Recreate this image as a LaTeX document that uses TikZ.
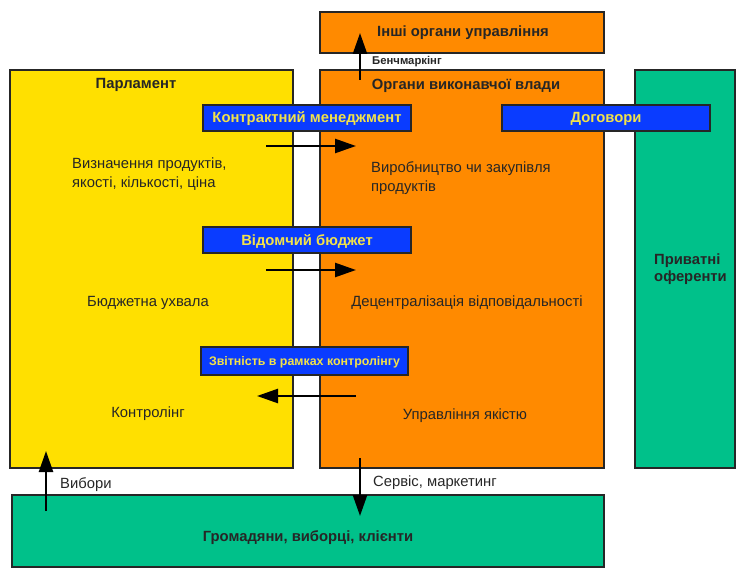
\documentclass[tikz,border=0pt]{standalone}
\usepackage{fontspec}
\setmainfont{Liberation Sans}
\usetikzlibrary{arrows.meta}
\definecolor{yel}{HTML}{FFE000}
\definecolor{org}{HTML}{FF8A00}
\definecolor{grn}{HTML}{00C18A}
\definecolor{blu}{HTML}{0A3CFF}
\definecolor{btxt}{HTML}{F2E24A}
\begin{document}
\begin{tikzpicture}[x=1pt,y=-1pt,
  box/.style={draw=black!85,line width=1.3pt,inner sep=0pt},
  lab/.style={draw=black!85,line width=1.3pt,fill=blu},
  ltx/.style={text=btxt,font=\bfseries\fontsize{14.8}{17}\selectfont,inner sep=0pt},
  txt/.style={font=\fontsize{14.8}{19}\selectfont,inner sep=0pt,text=black!85},
  btx/.style={font=\bfseries\fontsize{14.8}{17}\selectfont,inner sep=0pt,text=black!85},
  arr/.style={line width=2.5pt,-{Triangle[length=21pt,width=14pt]}}]
\useasboundingbox (0,0) rectangle (738,569);
% boxes
\filldraw[box,fill=yel] (10,70) rectangle (293,468);
\filldraw[box,fill=org] (320,70) rectangle (604,468);
\filldraw[box,fill=org] (320,12) rectangle (604,53);
\filldraw[box,fill=grn] (635,70) rectangle (735,468);
\filldraw[box,fill=grn] (12,495) rectangle (604,567);
% named anchors
\coordinate (bm1) at (360,80); \coordinate (bm2) at (360,33);
\coordinate (a1s) at (266,146); \coordinate (a1e) at (356,146);
\coordinate (a2s) at (266,270); \coordinate (a2e) at (356,270);
\coordinate (a3s) at (356,396); \coordinate (a3e) at (257,396);
\coordinate (v1) at (46,511); \coordinate (v2) at (46,451);
\coordinate (s1) at (360,458); \coordinate (s2) at (360,516);
% arrows
\draw[arr] (bm1) -- (bm2);
\draw[arr] (a1s) -- (a1e);
\draw[arr] (a2s) -- (a2e);
\draw[arr] (a3s) -- (a3e);
\draw[arr] (v1) -- (v2);
\draw[arr] (s1) -- (s2);
% blue labels
\filldraw[lab] (203,105) rectangle (411,131);
\node[ltx] (km) at (307,119) {Контрактний менеджмент};
\filldraw[lab] (502,105) rectangle (710,131);
\node[ltx] (dg) at (606,119) {Договори};
\filldraw[lab] (203,227) rectangle (411,253);
\node[ltx] (vb) at (307,241) {Відомчий бюджет};
\filldraw[lab] (201,347) rectangle (408,375);
\node[ltx,font=\bfseries\fontsize{12.4}{14}\selectfont] (zv) at (304.5,362) {Звітність в рамках контролінгу};
% texts
\node[btx] (parl) at (136,85) {Парламент};
\node[btx] (ovv) at (466,86) {Органи виконавчої влади};
\node[btx] (iou) at (463,33) {Інші органи управління};
\node[btx,font=\bfseries\fontsize{11.3}{13}\selectfont,anchor=west] (bmk) at (372,62) {Бенчмаркінг};
\node[txt,anchor=north west,align=left] (vyz) at (72,158) {Визначення продуктів,\\якості, кількості, ціна};
\node[txt,anchor=north west,align=left] (vyr) at (371,161) {Виробництво чи закупівля\\продуктів};
\node[txt] (bu) at (148,303) {Бюджетна ухвала};
\node[txt] (dv) at (467,303) {Децентралізація відповідальності};
\node[txt] (kn) at (148,414) {Контролінг};
\node[txt] (uy) at (465,416) {Управління якістю};
\node[txt,anchor=west] (vyb) at (60,485) {Вибори};
\node[txt,anchor=west] (srv) at (373,483) {Сервіс, маркетинг};
\node[btx] (grm) at (308,538) {Громадяни, виборці, клієнти};
\node[btx,anchor=north west,align=left] (pr) at (654,254) {Приватні\\оференти};
\end{tikzpicture}
\end{document}
